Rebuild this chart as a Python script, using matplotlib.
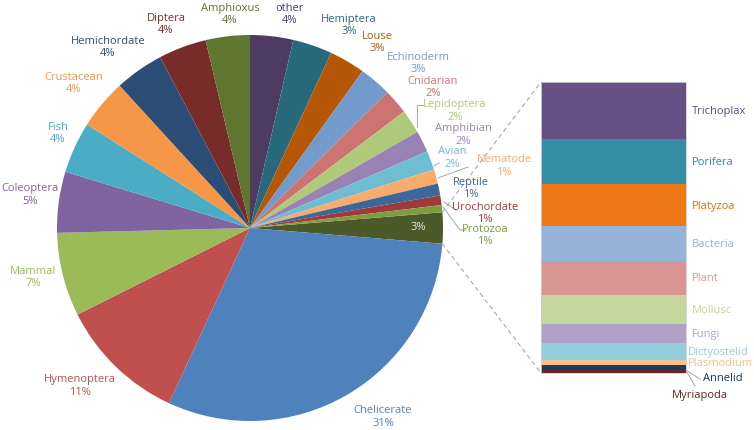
import matplotlib
matplotlib.use('Agg')
import matplotlib.pyplot as plt
import numpy as np

plt.rcParams['font.family'] = ['Open Sans', 'DejaVu Sans']

# pie slices, clockwise from the 3 o'clock position (after the grouped slice)
pie_names = ['Chelicerate', 'Hymenoptera', 'Mammal', 'Coleoptera', 'Fish',
             'Crustacean', 'Hemichordate', 'Diptera', 'Amphioxus', 'other',
             'Hemiptera', 'Louse', 'Echinoderm', 'Cnidarian', 'Lepidoptera',
             'Amphibian', 'Avian', 'Nematode', 'Reptile', 'Urochordate', 'Protozoa']
pie_values = [30.6, 10.7, 7.0, 5.1, 4.3,
              4.2, 4.1, 4.0, 3.7, 3.6,
              3.3, 3.0, 2.7, 2.1, 2.0,
              1.8, 1.6, 1.2, 1.0, 0.8, 0.6]
pie_colors = ['#4F81BD', '#C0504D', '#9BBB59', '#8064A2', '#4BACC6',
              '#F79646', '#2C4D75', '#772C2A', '#5F7530', '#4D3B62',
              '#276A7C', '#B65708', '#729ACA', '#CD7371', '#AFC97A',
              '#9983B5', '#6FBDD1', '#F9AB6B', '#3A679C', '#9E3B38', '#7E9D40']
group_color = '#4B5A28'

# the grouped slice, broken out in the bar (top to bottom)
bar_names = ['Trichoplax', 'Porifera', 'Platyzoa', 'Bacteria', 'Plant', 'Mollusc',
             'Fungi', 'Dictyostelid', 'Plasmodium', 'Annelid', 'Myriapoda']
bar_values = [0.51, 0.40, 0.38, 0.31, 0.30, 0.26, 0.17, 0.15, 0.05, 0.04, 0.03]
bar_colors = ['#675083', '#348EA6', '#EE7716', '#95B3D7', '#D99594', '#C3D69B',
              '#B2A1C7', '#93CDDD', '#FAC090', '#1F3A5B', '#632523']
bar_text_colors = ['#5F4B7A', '#31859C', '#E46C0A', '#95B3D7', '#D99694', '#C3D69B',
                   '#B3A2C7', '#93CDDD', '#FAC090', '#17375E', '#632523']

# layout (pixel positions, y from top)
W, H = 754, 431
cx, cy, R = 250, H - 229, 193
label_pos = {
    'Chelicerate': (383, 417), 'Hymenoptera': (80, 386), 'Mammal': (33, 277),
    'Coleoptera': (30, 195), 'Fish': (58, 133), 'Crustacean': (74, 83),
    'Hemichordate': (108, 47), 'Diptera': (166, 24), 'Amphioxus': (230, 14),
    'other': (290, 14), 'Hemiptera': (349, 25), 'Louse': (377, 42),
    'Echinoderm': (418, 63), 'Cnidarian': (433, 87), 'Lepidoptera': (455, 111),
    'Amphibian': (463, 135), 'Avian': (452, 158), 'Nematode': (504, 166),
    'Reptile': (471, 188), 'Urochordate': (485, 213), 'Protozoa': (485, 235),
}
leaders = [
    [(417, 128), (417, 106), (423, 106)],   # Lepidoptera
    [(434, 167), (439, 164)],               # Avian
    [(438, 179), (468, 168)],               # Nematode
    [(444, 203), (456, 211)],               # Urochordate
    [(443, 208), (460, 231), (466, 231)],   # Protozoa
    [(686, 371), (700, 380)],               # Annelid
    [(687, 373), (695, 387)],               # Myriapoda
]
bar_left, bar_right, bar_top, bar_bottom = 541, 686, 83, 374

fig = plt.figure(figsize=(W / 100, H / 100), dpi=100)
ax = fig.add_axes([0, 0, 1, 1])

group_total = sum(bar_values)
values = [group_total] + pie_values
colors = [group_color] + pie_colors
total = sum(values)
start = group_total / total * 360 / 2

ax.pie(values, colors=colors, center=(cx, cy), radius=R, startangle=start,
       counterclock=False, wedgeprops=dict(linewidth=0))

fs = 8
for name, v, c in zip(pie_names, pie_values, pie_colors):
    x, y = label_pos[name]
    # name and percentage as two lines
    ax.text(x, H - y + 6, name, color=c, fontsize=fs, ha='center', va='center')
    ax.text(x, H - y - 6.5, f"{round(v / total * 100)}%", color=c, fontsize=fs,
            ha='center', va='center')

ax.text(418, H - 228, f"{round(group_total / total * 100)}%", color='#E8E8E8',
        fontsize=fs, ha='center', va='center')

for pts in leaders:
    ax.plot([p[0] for p in pts], [H - p[1] for p in pts], color='#A6A6A6', lw=0.7)

# stacked bar
scale = (bar_bottom - bar_top) / group_total
bottom = H - bar_bottom
for name, v, c, tc in reversed(list(zip(bar_names, bar_values, bar_colors, bar_text_colors))):
    h = v * scale
    ax.bar((bar_left + bar_right) / 2, h, bottom=bottom, width=bar_right - bar_left,
           color=c, linewidth=0)
    yc = bottom + h / 2
    if name == 'Annelid':
        ax.text(703, H - 379, name, color=tc, fontsize=fs, ha='left', va='center')
    elif name == 'Myriapoda':
        ax.text(700, H - 396, name, color=tc, fontsize=fs, ha='center', va='center')
    elif name in ('Dictyostelid', 'Plasmodium'):
        ax.text(688, yc, name, color=tc, fontsize=fs, ha='left', va='center')
    else:
        ax.text(692, yc, name, color=tc, fontsize=fs, ha='left', va='center')
    bottom += h
ax.add_patch(plt.Rectangle((bar_left, H - bar_bottom), bar_right - bar_left,
                           bar_bottom - bar_top, fill=False, ec='#D0D0D0', lw=0.6))

# dashed connectors from grouped slice to the bar
a = np.deg2rad(start)
ax.plot([cx + R * np.cos(a), bar_left], [cy + R * np.sin(a), H - bar_top],
        color='#A6A6A6', lw=0.8, ls=(0, (4, 3)))
ax.plot([cx + R * np.cos(-a), bar_left], [cy + R * np.sin(-a), H - bar_bottom],
        color='#A6A6A6', lw=0.8, ls=(0, (4, 3)))

ax.set_xlim(0, W)
ax.set_ylim(0, H)
ax.set_aspect('auto')
ax.axis('off')

fig.savefig('out.png', dpi=100, facecolor='white')
